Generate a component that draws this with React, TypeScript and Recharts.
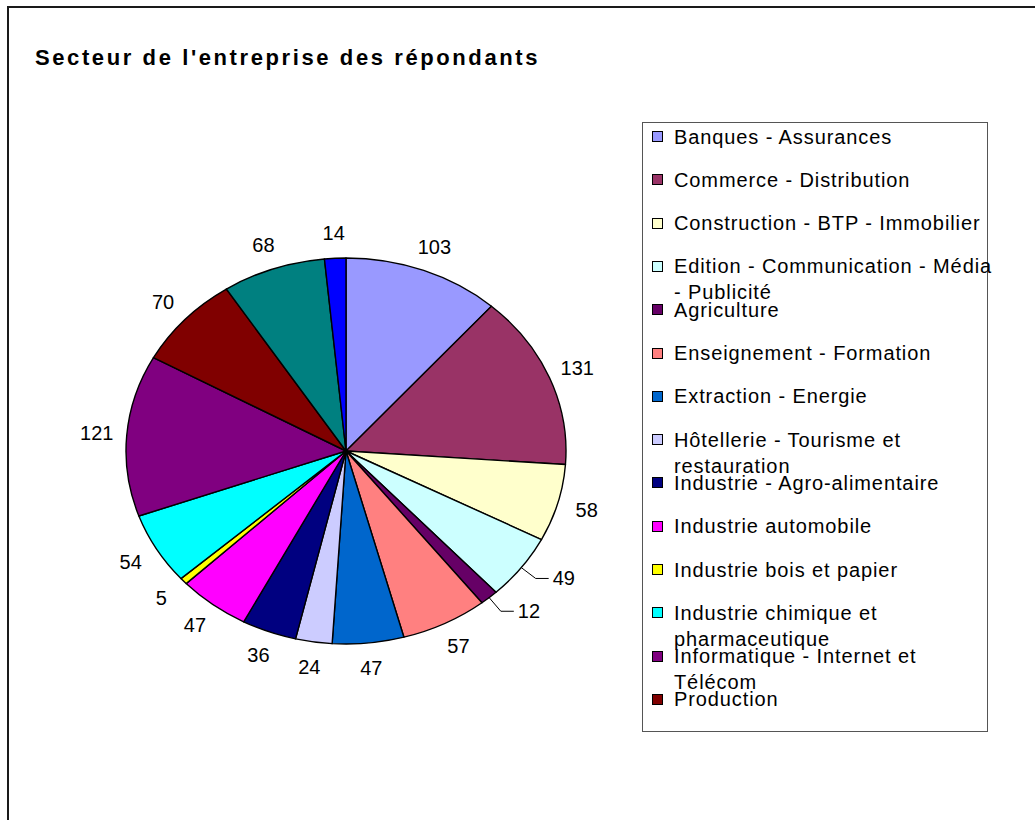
import { PieChart, Pie } from "recharts";

const categories = [
  "Banques - Assurances",
  "Commerce - Distribution",
  "Construction - BTP - Immobilier",
  "Edition - Communication - Média - Publicité",
  "Agriculture",
  "Enseignement - Formation",
  "Extraction - Energie",
  "Hôtellerie - Tourisme et restauration",
  "Industrie - Agro-alimentaire",
  "Industrie automobile",
  "Industrie bois et papier",
  "Industrie chimique et pharmaceutique",
  "Informatique - Internet et Télécom",
  "Production",
  "Services",
  "Autres",
];

const counts = [103, 131, 58, 49, 12, 57, 47, 24, 36, 47, 5, 54, 121, 70, 68, 14];

const colors = [
  "#9999FF", "#993366", "#FFFFCC", "#CCFFFF", "#660066", "#FF8080", "#0066CC", "#CCCCFF",
  "#000080", "#FF00FF", "#FFFF00", "#00FFFF", "#800080", "#800000", "#008080", "#0000FF",
];

// labels that Excel pulled out with a leader line
const leaderCategories = ["Edition - Communication - Média - Publicité", "Agriculture"];

// the legend box is clipped after this many entries
const legendVisible = 14;

const data = categories.map((name, i) => ({ name, value: counts[i] }));

const RX = 220;
const RY = 193;
const RAD = Math.PI / 180;
const FONT = "'Liberation Sans', Arial, Helvetica, sans-serif";

// pie is drawn squashed (ellipse), so each slice is drawn here from the angles recharts computes
// eslint-disable-next-line @typescript-eslint/no-explicit-any
const renderSlice = (props: any) => {
  const { cx, cy, startAngle, endAngle, midAngle, value, index } = props;
  const px = (a: number, r: number) => cx + r * Math.cos(a * RAD);
  const py = (a: number, r: number) => cy - r * Math.sin(a * RAD);
  const large = Math.abs(startAngle - endAngle) > 180 ? 1 : 0;
  const sweep = startAngle > endAngle ? 1 : 0;
  const d = `M${cx},${cy} L${px(startAngle, RX)},${py(startAngle, RY)} A${RX},${RY} 0 ${large} ${sweep} ${px(endAngle, RX)},${py(endAngle, RY)} Z`;

  const ux = Math.cos(midAngle * RAD);
  const uy = -Math.sin(midAngle * RAD);
  const txt = String(value);

  let label;
  if (leaderCategories.includes(categories[index])) {
    const x1 = cx + RX * ux;
    const y1 = cy + RY * uy;
    const x2 = cx + (RX + 18) * ux;
    const y2 = cy + (RY + 18) * uy;
    label = (
      <g>
        <polyline points={`${x1},${y1} ${x2},${y2} ${x2 + 13},${y2}`} fill="none" stroke="#000" strokeWidth={1} />
        <text x={x2 + 17} y={y2 + 7} textAnchor="start" fontSize={20} fontFamily={FONT} fill="#000">
          {txt}
        </text>
      </g>
    );
  } else {
    const lx = cx + (RX + 30) * ux;
    const ly = cy + (RY + 25) * uy;
    label = (
      <text x={lx} y={ly + 7} textAnchor="middle" fontSize={20} fontFamily={FONT} fill="#000">
        {txt}
      </text>
    );
  }

  return (
    <g key={`slice-${index}`}>
      <path d={d} fill={colors[index]} stroke="#000" strokeWidth={1.4} strokeLinejoin="round" />
      {label}
    </g>
  );
};

function LegendBox() {
  return (
    <div
      style={{
        position: "absolute",
        left: 642,
        top: 122,
        width: 344,
        height: 608,
        border: "1px solid #555",
        background: "#fff",
        fontFamily: FONT,
        fontSize: 20,
        letterSpacing: 0.9,
        color: "#000",
      }}
    >
      {categories.slice(0, legendVisible).map((name, i) => (
        <div key={name}>
          <div
            style={{
              position: "absolute",
              left: 9,
              top: 8 + 43.3 * i,
              width: 9,
              height: 9,
              border: "1px solid #000",
              background: colors[i],
            }}
          />
          <div
            style={{
              position: "absolute",
              left: 31,
              top: 0.5 + 43.3 * i,
              width: 325,
              lineHeight: "26px",
            }}
          >
            {name}
          </div>
        </div>
      ))}
    </div>
  );
}

export default function App() {
  return (
    <div
      style={{
        position: "fixed",
        left: 0,
        top: 0,
        width: 1035,
        height: 820,
        overflow: "hidden",
        background: "#fff",
      }}
    >
      <div
        style={{
          position: "absolute",
          left: 7,
          top: 6,
          width: 1200,
          height: 1000,
          borderLeft: "2px solid #1a1a1a",
          borderTop: "2px solid #1a1a1a",
        }}
      />
      <div
        style={{
          position: "absolute",
          left: 35,
          top: 46.5,
          fontFamily: FONT,
          fontWeight: "bold",
          fontSize: 22,
          lineHeight: "22px",
          letterSpacing: 2.6,
          whiteSpace: "nowrap",
          color: "#000",
        }}
      >
        Secteur de l'entreprise des répondants
      </div>
      <div style={{ position: "absolute", left: 0, top: 0 }}>
        <PieChart width={1035} height={820} margin={{ top: 0, right: 0, bottom: 0, left: 0 }}>
          <Pie
            data={data}
            dataKey="value"
            nameKey="name"
            cx={346}
            cy={451}
            outerRadius={RX}
            startAngle={90}
            endAngle={-270}
            fill="none"
            stroke="none"
            label={renderSlice}
            labelLine={false}
            isAnimationActive={false}
          />
        </PieChart>
      </div>
      <LegendBox />
    </div>
  );
}
